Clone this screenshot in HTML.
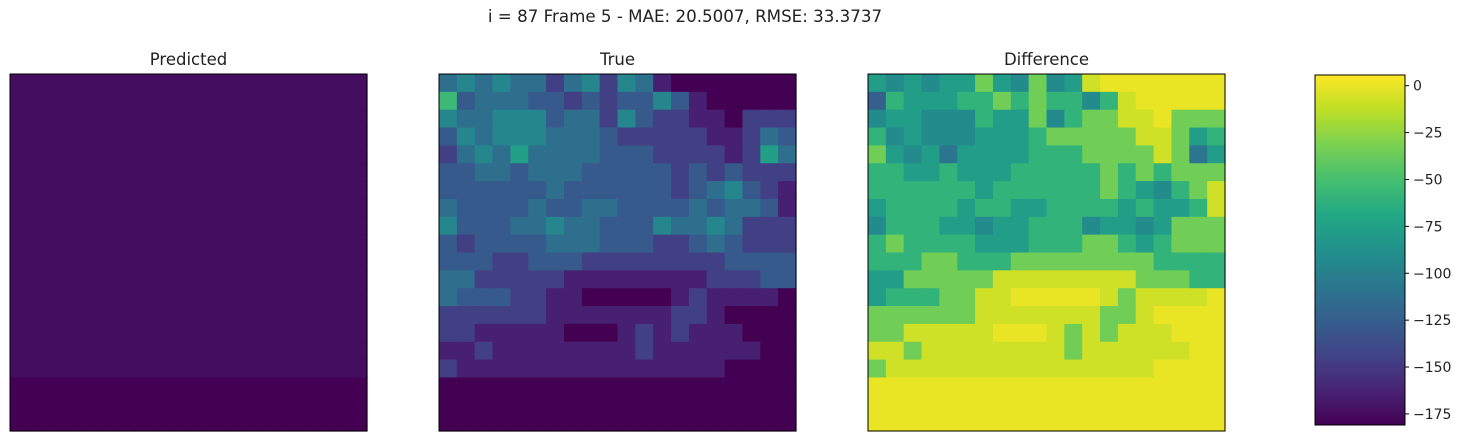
<!DOCTYPE html>
<html><head><meta charset="utf-8"><style>
body{margin:0;background:#fff;font-family:"Liberation Sans","DejaVu Sans",sans-serif}
svg text{font-family:"DejaVu Sans","Liberation Sans",sans-serif;fill:#222}
</style></head><body>
<svg id="fig" width="1462" height="441" xmlns="http://www.w3.org/2000/svg">
<text x="685" y="22" font-size="16.7" text-anchor="middle">i = 87 Frame 5 - MAE: 20.5007, RMSE: 33.3737</text>
<text x="188.5" y="65" font-size="16.5" text-anchor="middle">Predicted</text>
<text x="617.5" y="65" font-size="16.5" text-anchor="middle">True</text>
<text x="1046.5" y="65" font-size="16.5" text-anchor="middle">Difference</text>
<g id="pred"></g>
<g id="truth"></g>
<g id="diff"></g>
<defs><linearGradient id="vg" x1="0" y1="1" x2="0" y2="0">
<stop offset="0" stop-color="#440154"/><stop offset="0.1" stop-color="#482475"/><stop offset="0.2" stop-color="#414487"/><stop offset="0.3" stop-color="#355f8d"/><stop offset="0.4" stop-color="#2a788e"/><stop offset="0.5" stop-color="#21918c"/><stop offset="0.6" stop-color="#22a884"/><stop offset="0.7" stop-color="#44bf70"/><stop offset="0.8" stop-color="#7ad151"/><stop offset="0.9" stop-color="#bddf26"/><stop offset="1" stop-color="#fde725"/>
</linearGradient></defs>
<rect x="1315" y="75" width="90" height="350" fill="url(#vg)" stroke="#000" stroke-width="1"/>
<g id="cbticks"></g>
</svg>
<script>
const trueLevels = [
"45454424525410000000",
"73444332323353100000",
"54455534425322110222",
"35455544432222211243",
"24546444433322221264",
"33443444333332323222",
"33333343333332345321",
"43333433443333434431",
"53334454433354454222",
"32333344433322343222",
"33322333222222223333",
"44222221111111122233",
"43332211000001211110",
"22222211111112210000",
"22111110001212111000",
"11211111111211111100",
"21111111111111110000",
"00000000000000000000",
"00000000000000000000",
"00000000000000000000"];
const trueByLevel = [0,15,32,48,62,78,95,115];
const diffByLevel = [0,-8,-35,-60,-78,-92,-108,-125];
const predTop = -3, predBottom = 0;
const cbTicks = [0,-25,-50,-75,-100,-125,-150,-175];
const vmin = -180.9, vmax = 5.7;

const stops=["#440154","#482475","#414487","#355f8d","#2a788e","#21918c","#22a884","#44bf70","#7ad151","#bddf26","#fde725"];
function hex(c){return [1,3,5].map(i=>parseInt(c.substr(i,2),16));}
function viridis(t){t=Math.max(0,Math.min(1,t));const p=t*10,i=Math.min(9,Math.floor(p)),f=p-i;const a=hex(stops[i]),b=hex(stops[i+1]);return "rgb("+a.map((v,k)=>Math.round(v+(b[k]-v)*f)).join(",")+")";}
const NS="http://www.w3.org/2000/svg";
const N=trueLevels.length, size=357, cs=size/N;
function panel(id,x0,valFn,norm){
  const g=document.getElementById(id);
  for(let r=0;r<N;r++)for(let c=0;c<N;c++){
    const e=document.createElementNS(NS,"rect");
    e.setAttribute("x",x0+c*cs);e.setAttribute("y",74+r*cs);
    e.setAttribute("width",cs+0.6);e.setAttribute("height",cs+0.6);
    e.setAttribute("fill",viridis(norm(valFn(r,c))));
    
    
    g.appendChild(e);
  }
  const f=document.createElementNS(NS,"rect");
  f.setAttribute("x",x0);f.setAttribute("y",74);f.setAttribute("width",size);f.setAttribute("height",size);
  f.setAttribute("fill","none");f.setAttribute("stroke","#000");
  
  
  g.appendChild(f);
}
const trueVal=(r,c)=>trueByLevel[+trueLevels[r][c]];
const diffVal=(r,c)=>diffByLevel[+trueLevels[r][c]];
const predVal=(r,c)=> r>=N-3?predBottom:predTop;
panel("pred",10,predVal,v=>v>=0?0.0:0.035);
panel("truth",439,trueVal,v=>v/170);
panel("diff",868,diffVal,v=>(v-vmin)/(vmax-vmin));
const tg=document.getElementById("cbticks");
cbTicks.forEach(t=>{
  const y=425-(t-vmin)/(vmax-vmin)*350;
  const l=document.createElementNS(NS,"line");
  l.setAttribute("x1",1405);l.setAttribute("x2",1409);l.setAttribute("y1",y);l.setAttribute("y2",y);l.setAttribute("stroke","#000");
  
  
  tg.appendChild(l);
  const tx=document.createElementNS(NS,"text");
  tx.setAttribute("x",1413);tx.setAttribute("y",y+5);tx.setAttribute("font-size","14");
  tx.textContent=t===0?"0":"\u2212"+Math.abs(t);
  
  
  tg.appendChild(tx);
});
</script>
</body></html>
